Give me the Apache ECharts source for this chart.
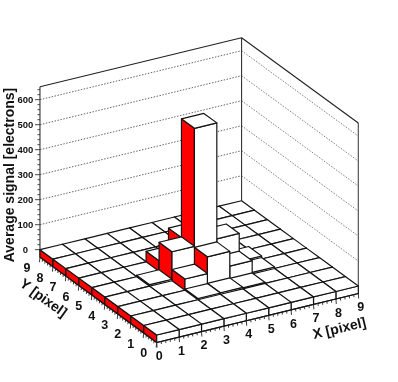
<!DOCTYPE html>
<html><head><meta charset="utf-8">
<style>html,body{margin:0;padding:0;background:#fff}#c{width:398px;height:382px}</style>
<script src="https://cdn.jsdelivr.net/npm/echarts@6/dist/echarts.min.js"></script>
</head><body><div id="c"></div>
<script>
// Cell values: average signal per (x,y) pixel, one row per Y pixel 0..8, columns X pixel 0..8
const row0 = [0,0,0,0,0,0,0,0,0];
const row1 = [0,0,0,0,0,0,0,0,0];
const row2 = [0,0,0,5,6,4,0,0,0];
const row3 = [0,0,0,45,112,53,6,0,0];
const row4 = [0,0,6,116,588,124,12,0,0];
const row5 = [0,0,0,42,113,0,0,0,0];
const row6 = [0,0,0,0,0,0,0,0,0];
const row7 = [0,0,0,0,0,0,0,0,0];
const row8 = [0,0,0,0,0,0,0,0,0];
const rows = [row0,row1,row2,row3,row4,row5,row6,row7,row8];
const xTickLabels = ['0','1','2','3','4','5','6','7','8','9'];
const yTickLabels = ['0','1','2','3','4','5','6','7','8','9'];
const zTickValues = [0,100,200,300,400,500,600];
const zMin = -30, zMax = 652;
const xTitle = 'X [pixel]', yTitle = 'Y [pixel]', zTitle = 'Average signal [electrons]';

// Oblique projection of the 3D box on the page
const O = [156.7, 335], EX = [22.4, -5.44], EY = [-12.97, -9.48], EZ = -0.25;
const P = (x, y, z) => [O[0] + x*EX[0] + y*EY[0], O[1] + x*EX[1] + y*EY[1] + z*EZ];

const INK = '#141414';
const line = (api, a, b, w, c, dash) => ({type:'line', shape:{x1:a[0],y1:a[1],x2:b[0],y2:b[1]},
  style:{stroke:c||INK, lineWidth:w||1, lineDash:dash||null, fill:null}, silent:true});
const poly = (api, pts, fill) => ({type:'polygon', shape:{points:pts},
  style:{fill:fill, stroke:INK, lineWidth:1.2, lineJoin:'round'}, silent:true});
const text = (api, p, t, size, weight, rot) => ({type:'text', x:p[0], y:p[1], rotation:(rot||0)*Math.PI/180,
  style:{text:t, fill:'#111', font:(weight||'normal')+' '+size+'px "Liberation Sans", Arial, sans-serif', align:'center', verticalAlign:'middle'}, silent:true});

// Page coordinates come through the hidden cartesian axes
function toPx(api, p){ return api.coord(p); }

function frame(params, api){
  const c = [];
  const pt = (x,y,z) => toPx(api, P(x,y,z));
  const nx = xTickLabels.length-1, ny = yTickLabels.length-1;
  zTickValues.slice(1).forEach(z => {
    c.push(line(api, pt(0,ny,z), pt(nx,ny,z), .9, '#555', [1.5,1.5]));
    c.push(line(api, pt(nx,ny,z), pt(nx,0,z), .9, '#707070', [1.5,1.5]));
  });
  c.push(line(api, pt(0,ny,zMin), pt(0,ny,zMax), 1.1, '#333'));
  c.push(line(api, pt(nx,ny,0), pt(nx,ny,zMax), 1.1, '#333'));
  c.push(line(api, pt(nx,0,zMin), pt(nx,0,zMax), 1.1, '#444'));
  c.push(line(api, pt(0,ny,zMax), pt(nx,ny,zMax), 1.1, '#222'));
  c.push(line(api, pt(nx,ny,zMax), pt(nx,0,zMax), 1.1, '#222'));
  // z ticks
  for (let i = 0; i <= 32; i++){
    const z = i*20;
    const a = pt(0,ny,z), major = i%5===0;
    c.push({type:'line', shape:{x1:a[0],y1:a[1],x2:a[0]-(major?5:2.5),y2:a[1]}, style:{stroke:'#333',lineWidth:.9}, silent:true});
  }
  zTickValues.forEach(z => { const a = pt(0,ny,z); c.push(text(api,[a[0]-14.5,a[1]+.5],String(z),9.5,'bold')); });
  return {type:'group', children:c};
}

function bar(params, api){
  const a = api.value(0), b = api.value(1), v = api.value(2);
  const pt = (x,y,z) => toPx(api, P(x,y,z));
  return {type:'group', children:[
    poly(api,[pt(a,b,zMin),pt(a,b+1,zMin),pt(a,b+1,v),pt(a,b,v)],'#ff0000'),
    poly(api,[pt(a,b,zMin),pt(a+1,b,zMin),pt(a+1,b,v),pt(a,b,v)],'#ffffff'),
    poly(api,[pt(a,b,v),pt(a+1,b,v),pt(a+1,b+1,v),pt(a,b+1,v)],'#ffffff')
  ]};
}

function axes(params, api){
  const c = [];
  const pt = (x,y,z) => toPx(api, P(x,y,z));
  const nx = xTickLabels.length-1, ny = yTickLabels.length-1;
  c.push(line(api, pt(0,0,zMin), pt(nx,0,zMin), 1.1));
  c.push(line(api, pt(0,0,zMin), pt(0,ny,zMin), 1.1));
  for (let i = 0; i <= nx*5; i++){
    const a = pt(i/5,0,zMin), m = i%5===0;
    c.push({type:'line', shape:{x1:a[0],y1:a[1],x2:a[0]+(m?.4:.2),y2:a[1]+(m?5:2.6)}, style:{stroke:'#222',lineWidth:.9}, silent:true});
  }
  for (let i = 0; i <= ny*5; i++){
    const a = pt(0,i/5,zMin), m = i%5===0;
    c.push({type:'line', shape:{x1:a[0],y1:a[1],x2:a[0]-(m?.5:.3),y2:a[1]+(m?5:2.6)}, style:{stroke:'#222',lineWidth:.9}, silent:true});
  }
  xTickLabels.forEach((t,i)=>{ const a = pt(i,0,zMin); c.push(text(api,[a[0]+2.5,a[1]+14.3],t,12.5,'bold')); });
  yTickLabels.forEach((t,i)=>{ const a = pt(0,i,zMin); c.push(text(api,[a[0]-13,a[1]+11.5],t,12.5,'bold')); });
  c.push(text(api, toPx(api,[339.5,329]), xTitle, 14, 'bold', 13.5));
  c.push(text(api, toPx(api,[43,298.5]), yTitle, 14, 'bold', -36));
  c.push(text(api, toPx(api,[10,175]), zTitle, 14, 'bold', 90));
  return {type:'group', children:c};
}

const cells = [];
for (let a = rows[0].length-1; a >= 0; a--)
  for (let b = rows.length-1; b >= 0; b--)
    cells.push([a, b, rows[b][a]]);

const chart = echarts.init(document.getElementById('c'), null, {renderer:'canvas'});
chart.setOption({
  animation:false, backgroundColor:'#fff',
  grid:{left:0,right:0,top:0,bottom:0},
  xAxis:{type:'value',min:0,max:398,show:false},
  yAxis:{type:'value',min:0,max:382,inverse:true,show:false},
  series:[
    {type:'custom',renderItem:frame,data:[[0]],silent:true,z:1,clip:false,encode:{x:0,y:0}},
    {type:'custom',renderItem:bar,data:cells,silent:true,z:2,clip:false,encode:{x:0,y:1}},
    {type:'custom',renderItem:axes,data:[[0]],silent:true,z:3,clip:false,encode:{x:0,y:0}}
  ]
});
</script></body></html>
